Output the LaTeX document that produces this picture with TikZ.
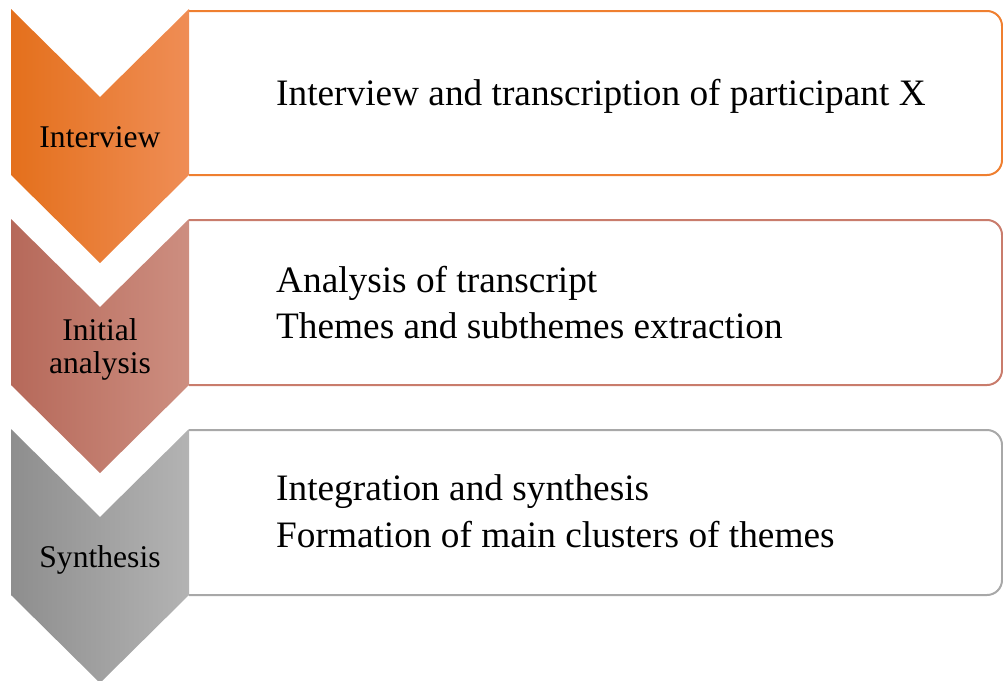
\documentclass[tikz,border=0pt]{standalone}
\usepackage{fontspec}
\setmainfont{Liberation Serif}

\definecolor{orgdark}{HTML}{E4701C}
\definecolor{orgmid}{HTML}{F47D22}
\definecolor{orglight}{HTML}{EF8D55}
\definecolor{orgline}{HTML}{EF7F30}
\definecolor{brndark}{HTML}{B6695A}
\definecolor{brnmid}{HTML}{C57A6A}
\definecolor{brnlight}{HTML}{CD8E80}
\definecolor{brnline}{HTML}{C97C6C}
\definecolor{grydark}{HTML}{8E8E8E}
\definecolor{grymid}{HTML}{A2A2A2}
\definecolor{grylight}{HTML}{B3B3B3}
\definecolor{gryline}{HTML}{A8A8A8}

\begin{document}
\begin{tikzpicture}[x=1pt, y=-1pt,
    steptext/.style={font=\fontsize{31.6}{33}\selectfont, anchor=base, inner sep=0pt},
    boxtext/.style={font=\fontsize{37.3}{46}\selectfont, anchor=base west, inner sep=0pt},
    boxline/.style={line width=2pt, rounded corners=15pt}] % process steps
        \useasboundingbox (0,0) rectangle (1003,680);
        % boxes on the right
        \draw[boxline, orgline] (189,11) -- (1002,11) -- (1002,175) -- (189,175);
        \draw[boxline, brnline] (189,220) -- (1002,220) -- (1002,385) -- (189,385);
        \draw[boxline, gryline] (189,430) -- (1002,430) -- (1002,595) -- (189,595);
        % chevrons on the left
        \shade[left color=orgdark, middle color=orgmid, right color=orglight]
            (11,9) -- (100,97) -- (189,9) -- (189,175) -- (100,263) -- (11,175) -- cycle;
        \shade[left color=brndark, middle color=brnmid, right color=brnlight]
            (11,219) -- (100,307) -- (189,219) -- (189,385) -- (100,473) -- (11,385) -- cycle;
        \shade[left color=grydark, middle color=grymid, right color=grylight]
            (11,429) -- (100,517) -- (189,429) -- (189,595) -- (100,683) -- (11,595) -- cycle;
        % step names
        \node[steptext] (interview) at (100,147) {Interview};
        \node[steptext] (initial) at (100,340) {Initial};
        \node[steptext] (analysis) at (100,373) {analysis};
        \node[steptext] (synthesis) at (100,567) {Synthesis};
        % step contents
        \node[boxtext] (transcription) at (276,105) {Interview and transcription of participant X};
        \node[boxtext] (transcript) at (276,292) {Analysis of transcript};
        \node[boxtext] (themes) at (276,338) {Themes and subthemes extraction};
        \node[boxtext] (integration) at (276,500) {Integration and synthesis};
        \node[boxtext] (clusters) at (276,547) {Formation of main clusters of themes};
      \end{tikzpicture}
\end{document}
